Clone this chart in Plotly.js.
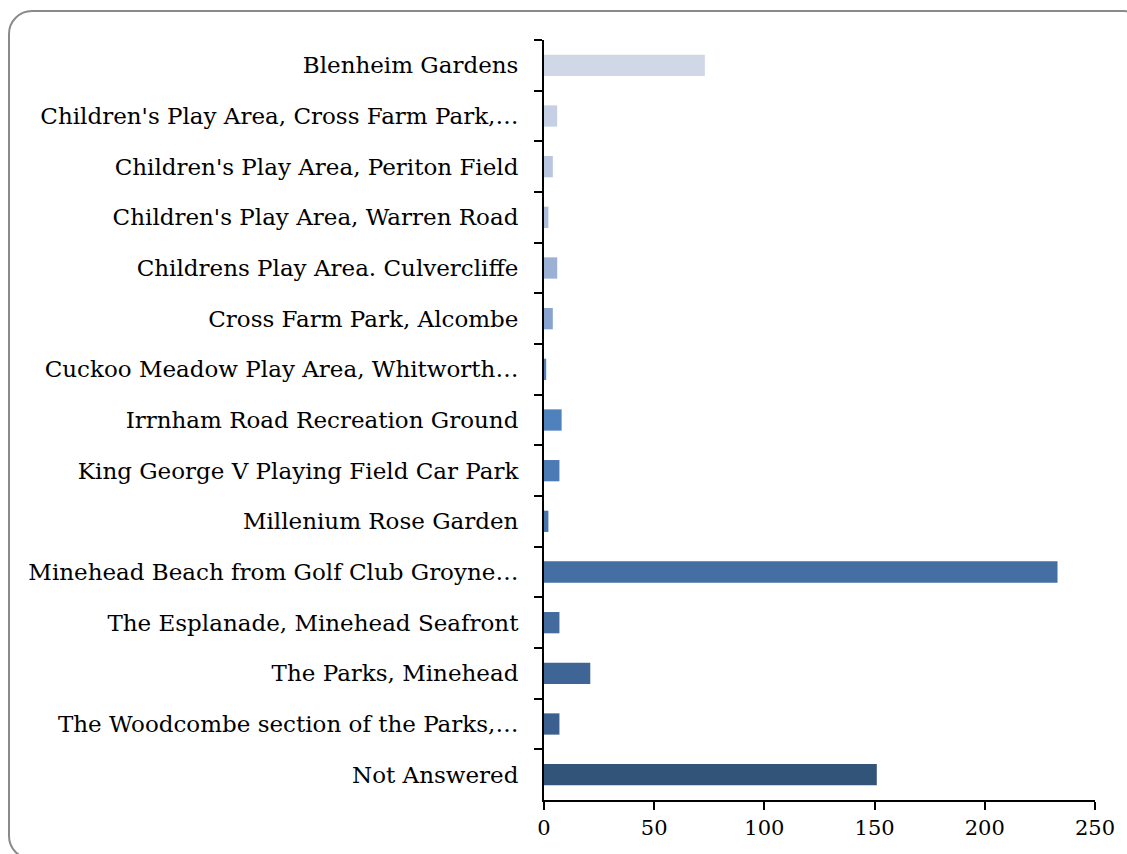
<!DOCTYPE html>
<html>
<head>
<meta charset="utf-8">
<script src="https://cdn.plot.ly/plotly-3.0.1.min.js"></script>
<style>
  html, body { margin: 0; padding: 0; background: #ffffff; overflow: hidden; }
  #frame { position: absolute; left: 8px; top: 10px; width: 1140px; height: 850px;
           border: 2px solid #8a8a8a; border-radius: 24px; box-sizing: border-box; }
  #chart { position: absolute; left: 0; top: 0; width: 1127px; height: 854px; }
</style>
</head>
<body>
<div id="frame"></div>
<div id="chart"></div>
<script>
const categories = [
  "Blenheim Gardens",
  "Children's Play Area, Cross Farm Park,…",
  "Children's Play Area, Periton Field",
  "Children's Play Area, Warren Road",
  "Childrens Play Area. Culvercliffe",
  "Cross Farm Park, Alcombe",
  "Cuckoo Meadow Play Area, Whitworth…",
  "Irrnham Road Recreation Ground",
  "King George V Playing Field Car Park",
  "Millenium Rose Garden",
  "Minehead Beach from Golf Club Groyne…",
  "The Esplanade, Minehead Seafront",
  "The Parks, Minehead",
  "The Woodcombe section of the Parks,…",
  "Not Answered"
];
const values = [73, 6, 4, 2, 6, 4, 1, 8, 7, 2, 233, 7, 21, 7, 151];
const barColors = [
  "#d0d8e8", "#c6d0e5", "#b9c6e0", "#aebddb", "#9bb0d5",
  "#88a3cf", "#5b81bd", "#4f81bd", "#4b7ab5", "#4877b0",
  "#456ea3", "#436b9e", "#3f6596", "#3b5f8e", "#335479"
];
const xTicks = [0, 50, 100, 150, 200, 250];

const labelFont = { family: "DejaVu Serif, Liberation Serif, serif", size: 23, color: "#000000" };
const tickFont = { family: "DejaVu Serif, Liberation Serif, serif", size: 21, color: "#000000" };

Plotly.newPlot("chart", [{
  type: "bar",
  orientation: "h",
  y: categories,
  x: values,
  marker: { color: barColors, line: { width: 0 } },
  hoverinfo: "x+y"
}], {
  width: 1127, height: 854,
  paper_bgcolor: "rgba(0,0,0,0)",
  plot_bgcolor: "rgba(0,0,0,0)",
  margin: { l: 544, r: 32, t: 40, b: 54 },
  bargap: 0.58,
  showlegend: false,
  font: tickFont,
  xaxis: {
    range: [0, 250],
    tickvals: xTicks,
    ticktext: xTicks.map(String),
    ticks: "outside", ticklen: 8, tickwidth: 2, tickcolor: "#000",
    showline: true, linewidth: 2, linecolor: "#000",
    showgrid: false, zeroline: false,
    tickfont: tickFont
  },
  yaxis: {
    type: "category",
    autorange: "reversed",
    ticks: "outside", tickson: "boundaries", ticklen: 8, tickwidth: 2, tickcolor: "#000",
    showline: true, linewidth: 2, linecolor: "#000",
    showgrid: false, zeroline: false,
    ticklabelstandoff: 19,
    tickfont: labelFont
  }
}, { staticPlot: true, displayModeBar: false });
</script>
</body>
</html>
